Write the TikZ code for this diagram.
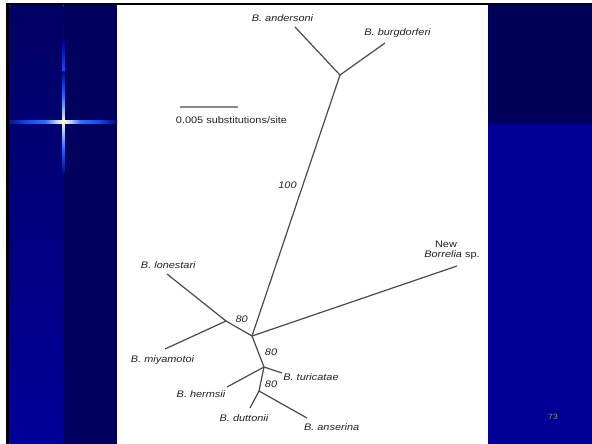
\documentclass[tikz,border=0pt]{standalone}
\usepackage{fontspec}
\setmainfont{Liberation Sans}[FakeStretch=1.15]
\definecolor{lpTop}{HTML}{000062}
\definecolor{lpBot}{HTML}{00009A}
\definecolor{navyR}{HTML}{00005E}
\definecolor{navyTop}{HTML}{000058}
\definecolor{blueBot}{HTML}{000096}
\definecolor{faintline}{HTML}{000088}
\definecolor{edgegrey}{HTML}{4A4A4A}
\definecolor{scalegrey}{HTML}{8A8A8A}
\definecolor{labelgrey}{HTML}{222222}
\definecolor{olivenum}{HTML}{9A9A30}
\pgfdeclarehorizontalshading{hglow}{100bp}{rgb(0bp)=(0.02,0.08,0.55); rgb(25bp)=(0.02,0.08,0.55); rgb(33bp)=(0.06,0.28,0.92); rgb(42bp)=(0.16,0.44,1); rgb(47bp)=(0.78,0.85,0.94); rgb(50bp)=(1,1,0.88); rgb(53bp)=(0.78,0.85,0.94); rgb(58bp)=(0.16,0.44,1); rgb(67bp)=(0.06,0.28,0.92); rgb(75bp)=(0,0.03,0.45); rgb(100bp)=(0,0.03,0.45)}
\pgfdeclareverticalshading{vglow}{100bp}{rgb(0bp)=(0,0.05,0.55); rgb(25bp)=(0,0.05,0.55); rgb(36bp)=(0.1,0.38,1); rgb(46bp)=(0.7,0.8,0.95); rgb(50bp)=(1,1,0.88); rgb(54bp)=(0.7,0.8,0.95); rgb(64bp)=(0.1,0.38,1); rgb(75bp)=(0,0.05,0.55); rgb(100bp)=(0,0.05,0.55)}
\begin{document}
\begin{tikzpicture}[x=1pt,y=-1pt,
  branch/.style={draw=edgegrey, line width=1.2pt},
  scalebar/.style={draw=scalegrey, line width=1.3pt},
  taxon/.style={font=\fontsize{9.5}{11}\selectfont\itshape, text=labelgrey, inner sep=0pt, anchor=base},
  boot/.style={font=\fontsize{9.5}{11}\selectfont\itshape, text=labelgrey, inner sep=0pt, anchor=base},
  plainlabel/.style={font=\fontsize{9.5}{11}\selectfont, text=labelgrey, inner sep=0pt, anchor=base}]
\useasboundingbox (0,0) rectangle (592,444);
% slide background
\fill[white] (0,0) rectangle (592,444);
\fill[black] (6,3) rectangle (592,5.5);
\fill[black] (6,3) rectangle (9.3,444);
\shade[top color=lpTop, bottom color=lpBot] (9.3,5.5) rectangle (63.5,444);
\fill[navyR] (63.5,5.5) rectangle (117,444);
\fill[white] (117,5.5) rectangle (487.5,444);
\fill[navyTop] (487.5,5.5) rectangle (592,124);
\fill[blueBot] (487.5,124) rectangle (592,444);
% star glow
\draw[faintline, line width=1pt] (63.5,20) -- (63.5,444);
\shade[top color=faintline, bottom color={rgb,255:red,20;green,80;blue,255}] (62.7,40) rectangle (64.3,73);
\shade[shading=vglow] (62.4,72) rectangle (64.6,172);
\shade[shading=hglow] (9.3,120.8) rectangle (117,123.6);
% scale bar
\coordinate (sbL) at (180,107);
\coordinate (sbR) at (238,107);
\draw[scalebar] (sbL) -- (sbR);
\node[plainlabel] (sbT) at (231.5,123.5) {0.005 substitutions/site};
% tree junctions and leaves
\coordinate (A) at (340,75);
\coordinate (R) at (252,336);
\coordinate (N1) at (226,321);
\coordinate (N2) at (264,367);
\coordinate (N3) at (259,391);
\coordinate (and) at (295,27);
\coordinate (bur) at (385,43);
\coordinate (lon) at (167,274);
\coordinate (miy) at (165,349);
\coordinate (new) at (457,266);
\coordinate (tur) at (282,373);
\coordinate (her) at (227,387);
\coordinate (dut) at (250,408);
\coordinate (ans) at (307,418);
\draw[branch] (and) -- (A) -- (bur);
\draw[branch] (A) -- (R);
\draw[branch] (lon) -- (N1) -- (R);
\draw[branch] (miy) -- (N1);
\draw[branch] (R) -- (new);
\draw[branch] (R) -- (N2) -- (tur);
\draw[branch] (her) -- (N2);
\draw[branch] (N2) -- (N3) -- (ans);
\draw[branch] (N3) -- (dut);
% labels
\node[taxon] (tAnd) at (282.5,21.5) {B. andersoni};
\node[taxon] (tBur) at (397.5,35.5) {B. burgdorferi};
\node[boot] (b100) at (287.5,188.5) {100};
\node[taxon] (tLon) at (168.3,268.5) {B. lonestari};
\node[boot] (b80a) at (241.7,322) {80};
\node[taxon] (tMiy) at (162.5,362) {B. miyamotoi};
\node[plainlabel] (tNew) at (446,247.5) {New};
\node[plainlabel] (tBor) at (452,257) {\textit{Borrelia} sp.};
\node[boot] (b80b) at (271,355.5) {80};
\node[taxon] (tTur) at (311,380.5) {B. turicatae};
\node[taxon] (tHer) at (201,397.5) {B. hermsii};
\node[boot] (b80c) at (271,387.5) {80};
\node[taxon] (tDut) at (244,421) {B. duttonii};
\node[taxon] (tAns) at (331.7,430) {B. anserina};
\node[font=\fontsize{7.5}{9}\selectfont, text=olivenum, inner sep=0pt, anchor=base] (pg) at (553,419.5) {73};
\end{tikzpicture}
\end{document}
